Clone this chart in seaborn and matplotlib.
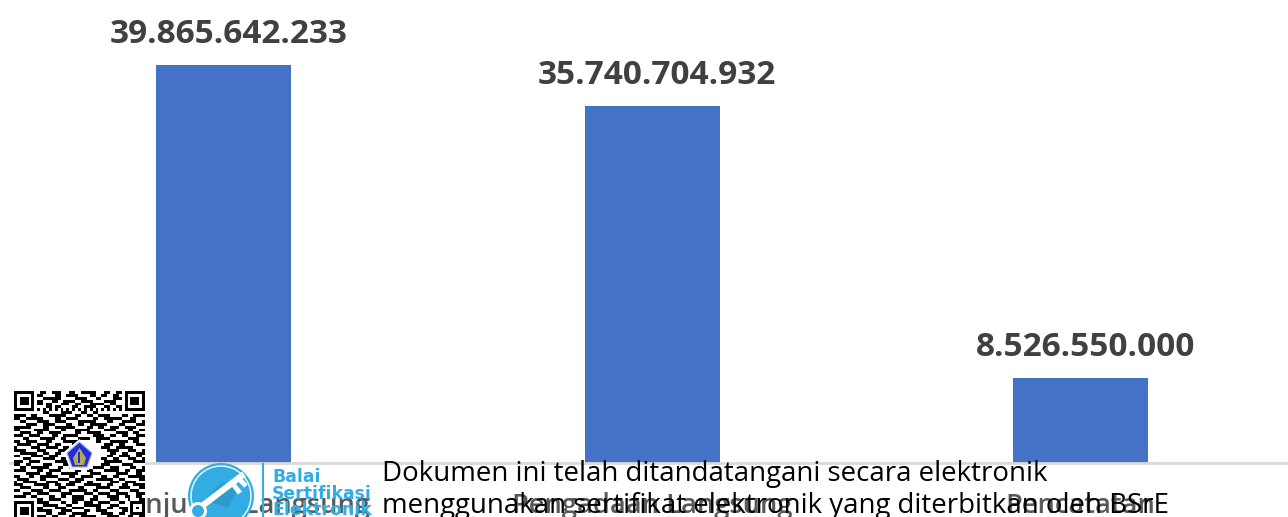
import matplotlib
matplotlib.use("Agg")
import matplotlib.pyplot as plt
import numpy as np
import seaborn as sns
import pandas as pd
from matplotlib.patches import Circle, Polygon, Rectangle

categories = ["Penunjukan Langsung", "Pengadaan Langsung", "Pencatatan"]
values = [39865642233, 35740704932, 8526550000]
value_labels = ["39.865.642.233", "35.740.704.932", "8.526.550.000"]
sign_lines = ["Dokumen ini telah ditandatangani secara elektronik",
              "menggunakan sertifikat elektronik yang diterbitkan oleh BSrE"]
logo_lines = ["Balai", "Sertifikasi", "Elektronik"]

# QR pattern (approximate reading of the picture)
finder = ["1111111", "1000001", "1011101", "1011101", "1011101", "1000001", "1111111", "0000000"]
qr_top = [
"01100111000110011111000110011",
"11000011001111000011001100110",
"00111111000001111000110000111",
"11000110011110011110000111100",
"11011000111001100011111001100",
"00011011000011001111000110011",
"10101010101010101010101010101",
"00110000111100011001100000000",
]
qr_mid = [
"111100110000111111000110011001111000011001111",
"110011111100001100111100000110011111100011000",
"001100001111001111000011111100001100011111001",
"000011110011110000110011001111110000110000111",
"111111000011001111111000011001100111001111000",
"110000011111000011000111110000011110000110011",
"001111001100111100000110011111000001111001100",
"111001111000011001111100000111100110011000111",
"000110000111110011000011110011111000000111100",
"110011110001100001111110000011000111111001100",
"011111001111001100001100000000011100110000111",
"100000111001111001100000000000111001111110000",
"111100001110000111100000000000001111000111001",
"001111110011001100000000000000000110011000111",
"110000111100111000000000000000001100111100110",
"000111000011110011000000000000110011000111001",
"111001111000001111100000000000011111100001111",
"110011000011100001110000000000111000011110000",
"001100111111000110011111000111100111000011001",
"111100001100111100000110011000011111001100111",
"000011111001100011111100001111000001111000110",
"110001100111111000011001111000110011000111111",
"011110000110000111100111000011111100110000011",
"100111110001111000011110011000000111001111000",
"111000011111001100111000111111001100011001111",
"001111000011000111000011000011111000111100011",
"110000111100111100011111100110000111000011100",
"000111001111000011110000111001111001111000111",
"111100110000110011001111000110001111001100110",
]
qr_bot = [
"000000001100111100001111001110000111000100011",
"000000001111000011001100111001111000110011111",
"000000000011111000110000111111000111000010001",
"000000001100001111001111000011001100111010101",
"000000001111100011110000110011110000011010001",
"000000000001100111001111100000111100110011111",
"000000001110011000011001111100001111000110011",
]

W, H = 1288, 517
sns.set_theme(style="white")
plt.rcParams["font.family"] = ["Open Sans", "DejaVu Sans"]

fig = plt.figure(figsize=(W / 100, H / 100), dpi=100)
ax = fig.add_axes([9.5 / W, (H - 463) / H, 1285.5 / W, 463 / H])
df = pd.DataFrame({"cat": categories, "val": values})
sns.barplot(data=df, x="cat", y="val", color="#4472C4", saturation=1, width=0.315, ax=ax)
for b in ax.patches:
    b.set_edgecolor("none")
ax.set_xlim(-0.5, 2.5)
ax.set_ylim(0, max(values) * 463 / 398.5)
ax.set_xlabel("")
ax.set_ylabel("")
ax.set_yticks([])
ax.set_xticks(range(3))
ax.set_xticklabels(categories, fontsize=19.6, fontweight="semibold", color="#595959")
ax.tick_params(axis="x", which="major", length=0, pad=21)
ax.set_xticks([-0.5, 0.5, 1.5, 2.5], minor=True)
ax.tick_params(axis="x", which="minor", length=5, width=1.5, color="#D9D9D9")
for s in ["top", "left", "right"]:
    ax.spines[s].set_visible(False)
ax.spines["bottom"].set_color("#D9D9D9")
ax.spines["bottom"].set_linewidth(2)
for i, (v, lab) in enumerate(zip(values, value_labels)):
    ax.annotate(lab, (i, v), xytext=(3.3, 10), textcoords="offset points", ha="center", va="bottom",
                fontsize=24, fontweight="bold", color="#404040", clip_on=False)

# overlay in pixel coordinates
ov = fig.add_axes([0, 0, 1, 1], facecolor="none")

rows = [f + "0" + t[:29].ljust(29, "0") + "0" + f for f, t in zip(finder, qr_top)]
rows += [r[:45].ljust(45, "0") for r in qr_mid]
rows += [r[:45].ljust(45, "0") for r in qr_bot]
grid = np.array([[int(c) for c in r] for r in rows], dtype=float)
for r, f in enumerate(finder[:6]):
    grid[38 + r, :7] = [int(c) for c in f]
    grid[38 + r, 7] = 0
m = 2.89
x0, y0 = 14, 391
ov.imshow(1 - grid, cmap="gray", vmin=0, vmax=1, interpolation="nearest", aspect="auto",
          extent=[x0, x0 + 45 * m, y0 + grid.shape[0] * m, y0], zorder=1)
ov.set_xlim(0, W)
ov.set_ylim(H, 0)
ov.axis("off")

ov.add_patch(Polygon([(79.5, 439), (95, 452), (89, 470), (70, 470), (64, 452)], fc="white", ec="none", zorder=2))
ov.add_patch(Polygon([(79.5, 442), (92, 453), (87, 467), (72, 467), (67, 453)], fc="#1F2FE0", ec="#B0B0E0", lw=0.8, zorder=2))
ov.add_patch(Polygon([(79.5, 448), (86, 458), (84, 465), (75, 465), (73, 458)], fc="#B8A850", ec="none", zorder=2))
ov.add_patch(Rectangle((78.5, 452), 2, 11, fc="#1F2FE0", ec="none", zorder=2))

# logo
ov.add_patch(Circle((221, 496), 33, fc="#32ADE3", ec="none", zorder=2))
ov.add_patch(Circle((221, 496), 30, fc="none", ec="white", lw=1, zorder=2))
ov.add_patch(Polygon([(205, 500), (228, 508), (238, 488), (222, 482)], fc="#2A8FC0", ec="none", alpha=0.6, zorder=2))
ov.plot([202, 244], [506, 474], color="white", lw=4.5, solid_capstyle="butt", zorder=3)
ov.plot([232, 240], [483, 493], color="white", lw=3.5, solid_capstyle="butt", zorder=3)
ov.plot([238, 246], [478, 486], color="white", lw=3.5, solid_capstyle="butt", zorder=3)
ov.add_patch(Circle((198, 511), 9, fc="white", ec="none", zorder=3))
ov.add_patch(Circle((198, 511), 6, fc="#32ADE3", ec="none", zorder=3))
ov.add_patch(Rectangle((262.5, 463), 1.8, 54, fc="#32ADE3", ec="none", zorder=2))
for y, t in zip([477, 494, 510], logo_lines):
    ov.text(272, y, t, fontsize=12.4, fontweight="bold", family="DejaVu Sans", color="#32ADE3",
            va="center", ha="left", zorder=4)
ov.text(382, 473.5, sign_lines[0], fontsize=19.9, color="black", va="center", ha="left", zorder=4)
ov.text(382, 506.5, sign_lines[1], fontsize=19.9, color="black", va="center", ha="left", zorder=4)

fig.savefig("out.png", dpi=100)
